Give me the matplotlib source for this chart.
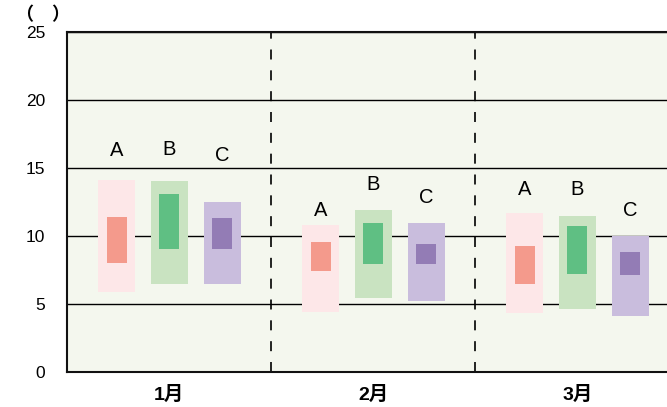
import numpy as np
import matplotlib.pyplot as plt

plt.rcParams['font.family'] = ['Liberation Sans', 'Noto Sans CJK JP', 'DejaVu Sans']

months = ['1月', '2月', '3月']
series = ['A', 'B', 'C']

# 外側の範囲 (下限, 上限)
outer_low = [[5.9, 6.45, 6.45], [4.4, 5.45, 5.2], [4.35, 4.6, 4.1]]
outer_high = [[14.1, 14.05, 12.5], [10.8, 11.9, 10.95], [11.7, 11.45, 10.0]]
# 内側の範囲
inner_low = [[8.0, 9.05, 9.05], [7.45, 7.95, 7.95], [6.45, 7.2, 7.1]]
inner_high = [[11.4, 13.1, 11.3], [9.55, 10.95, 9.4], [9.25, 10.75, 8.8]]
# ラベルの高さ
label_y = [[16.3, 16.4, 15.9], [11.85, 13.8, 12.8], [13.4, 13.4, 11.9]]

outer_colors = ['#FDE7E8', '#C9E3C1', '#C9BDDD']
inner_colors = ['#F49A8C', '#5FBF83', '#937CB5']

offsets = [-0.258, 0.0, 0.26]

fig = plt.figure(figsize=(6.67, 4.07), dpi=100)
ax = fig.add_axes([0.1009, 0.0867, 0.9175, 0.834])
ax.set_facecolor('#F4F7EE')

for g in range(len(months)):
    for s in range(len(series)):
        x = g + offsets[s]
        ax.bar(x, outer_high[g][s] - outer_low[g][s], bottom=outer_low[g][s],
               width=0.181, color=outer_colors[s], zorder=3)
        ax.bar(x, inner_high[g][s] - inner_low[g][s], bottom=inner_low[g][s],
               width=0.098, color=inner_colors[s], zorder=4)
        ax.text(x, label_y[g][s], series[s], ha='center', va='center',
                fontsize=14.5, zorder=5)

for xv in [0.5, 1.5]:
    ax.axvline(xv, color='black', lw=1.2, linestyle=(0, (6, 6.5)), zorder=2)

ax.set_xlim(-0.5, 2.5)
ax.set_ylim(0, 25)
ax.set_yticks([0, 5, 10, 15, 20, 25])
ax.yaxis.grid(True, color='black', lw=1.0, zorder=1)
ax.set_axisbelow(True)
ax.set_xticks(range(len(months)))
ax.set_xticklabels(months, fontsize=14, fontweight='bold')
ax.tick_params(axis='y', length=0, pad=16, labelsize=12.5)
ax.tick_params(axis='x', length=0, pad=10)
for sp in ax.spines.values():
    sp.set_linewidth(1.5)
    sp.set_color('#111111')

fig.text(43 / 667, 1 - 15 / 407, '（　）', ha='center', va='center',
         fontsize=13, fontweight='bold', family=['Noto Sans CJK JP', 'DejaVu Sans'])

fig.savefig('out.png', dpi=100)
